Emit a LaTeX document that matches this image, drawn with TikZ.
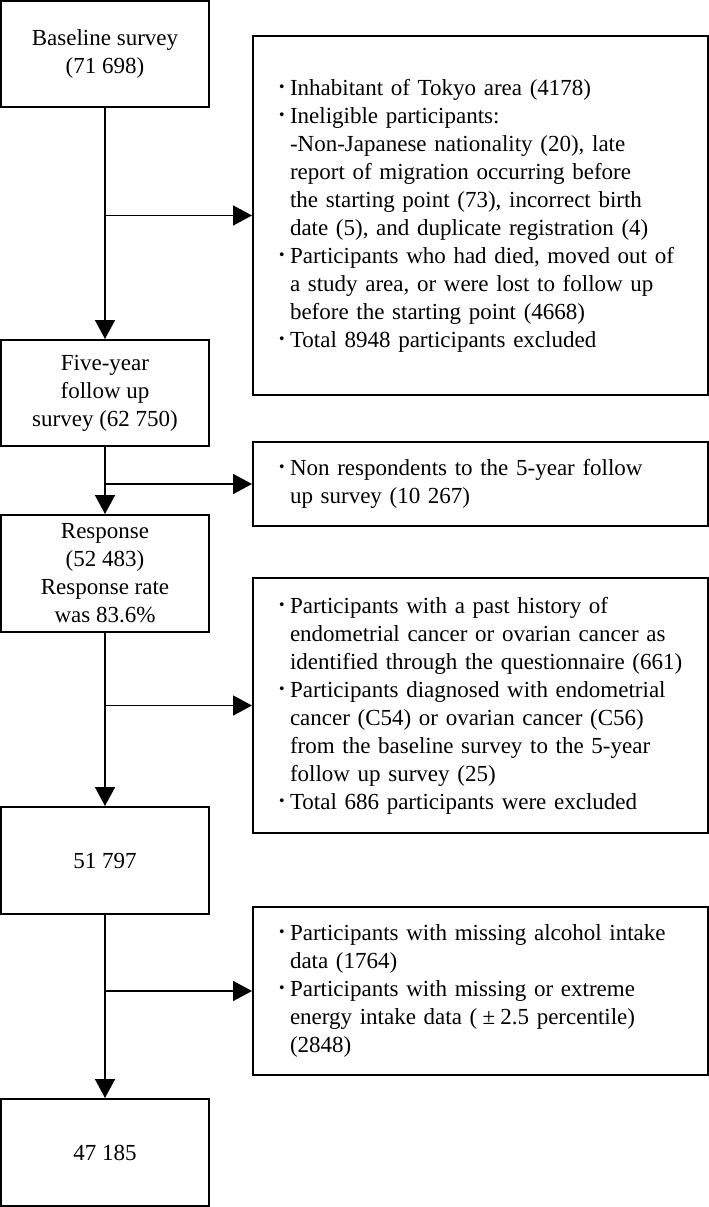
\documentclass[tikz,border=0pt]{standalone}
\usepackage{fontspec}
\setmainfont{Liberation Serif}
\newfontfamily\jp{Noto Sans CJK JP}
\usetikzlibrary{arrows.meta}
\newcommand{\bul}{\makebox[15pt]{\jp ･}}
\tikzset{
	leftbox/.style={draw, line width=2pt, minimum width=208pt, inner sep=0pt, align=center},
	rightbox/.style={draw, line width=2pt, text width=411pt, inner xsep=22pt, inner ysep=0pt, align=left},
	arr/.style={line width=1.6pt, -{Triangle[length=19pt,width=20pt]}}
}

\begin{document}
\begin{tikzpicture}[x=1pt, y=-1pt, font=\fontsize{23}{28}\selectfont]
		\useasboundingbox (0,0) rectangle (709,1207);
		%%  Left column  %%%%%%%%
		\node[leftbox, minimum height=106pt] (base) at (105,54) {Baseline survey\\(71 698)};
		\node[leftbox, minimum height=106pt] (follow) at (105,393) {Five-year\\follow up\\survey (62 750)};
		\node[leftbox, minimum height=117pt] (resp) at (105,573.5) {Response\\(52 483)\\Response rate\\was 83.6\%};
		\node[leftbox, minimum height=107pt] (elig) at (105,860.5) {51 797};
		\node[leftbox, minimum height=107pt] (final) at (105,1152.5) {47 185};
		%%  Exclusions  %%%%%%%%
		\node[rightbox, minimum height=359pt] (exA) at (480.5,215.5) {\begin{tabular}{@{}l@{}l@{}}
			\bul & Inhabitant of Tokyo area (4178)\\
			\bul & Ineligible participants:\\
			& -Non-Japanese nationality (20), late\\
			& report of migration occurring before\\
			& the starting point (73), incorrect birth\\
			& date (5), and duplicate registration (4)\\
			\bul & Participants who had died, moved out of\\
			& a study area, or were lost to follow up\\
			& before the starting point (4668)\\
			\bul & Total 8948 participants excluded
		\end{tabular}};
		\node[rightbox, minimum height=84pt] (exB) at (480.5,484) {\begin{tabular}{@{}l@{}l@{}}
			\bul & Non respondents to the 5-year follow\\
			& up survey (10 267)
		\end{tabular}};
		\node[rightbox, minimum height=255pt] (exC) at (480.5,705.5) {\begin{tabular}{@{}l@{}l@{}}
			\bul & Participants with a past history of\\
			& endometrial cancer or ovarian cancer as\\
			& identified through the questionnaire (661)\\
			\bul & Participants diagnosed with endometrial\\
			& cancer (C54) or ovarian cancer (C56)\\
			& from the baseline survey to the 5-year\\
			& follow up survey (25)\\
			\bul & Total 686 participants were excluded
		\end{tabular}};
		\node[rightbox, minimum height=168pt] (exD) at (480.5,991) {\begin{tabular}{@{}l@{}l@{}}
			\bul & Participants with missing alcohol intake\\
			& data (1764)\\
			\bul & Participants with missing or extreme\\
			& energy intake data (\makebox[1em]{±}2.5 percentile)\\
			& (2848)
		\end{tabular}};
		%%  Arrows  %%%%%%%%
		\coordinate (jA) at (base.south |- exA.west);
		\coordinate (jB) at (follow.south |- exB.west);
		\coordinate (jC) at (resp.south |- exC.west);
		\coordinate (jD) at (elig.south |- exD.west);
		\draw[arr] (base) -- (follow);
		\draw[arr] (follow) -- (resp);
		\draw[arr] (resp) -- (elig);
		\draw[arr] (elig) -- (final);
		\draw[arr] (jA) -- (exA.west);
		\draw[arr] (jB) -- (exB.west);
		\draw[arr] (jC) -- (exC.west);
		\draw[arr] (jD) -- (exD.west);
		%%%%%%%%%%%%%%%
\end{tikzpicture}
\end{document}
